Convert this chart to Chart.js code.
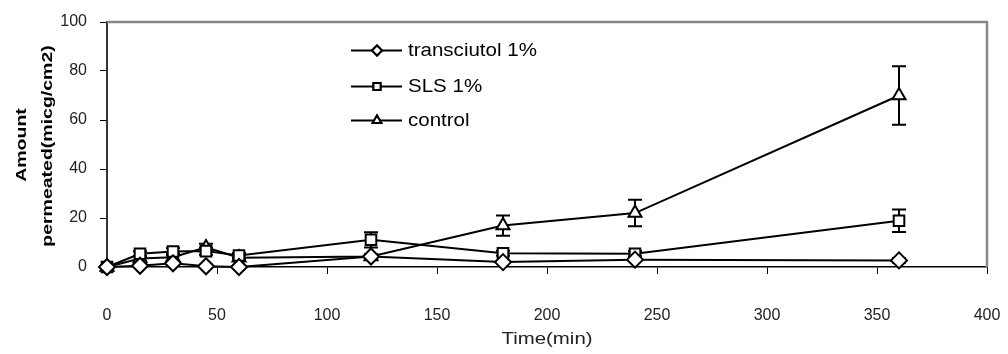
<!DOCTYPE html>
<html>
<head>
<meta charset="utf-8">
<script src="https://cdn.jsdelivr.net/npm/chart.js@4/dist/chart.umd.min.js"></script>
<style>
  html, body { margin: 0; padding: 0; background: #fff; }
  #wrap { width: 1008px; height: 354px; position: relative; }
</style>
</head>
<body>
<div id="wrap"><canvas id="chart"></canvas></div>
<script>
// data
const timeMin = [0, 15, 30, 45, 60, 120, 180, 240, 360];
const transciutol = [0, 0.5, 1.5, 0.3, 0, 4.3, 2, 3, 2.7];
const transciutolErr = [0, 0.5, 0.8, 0.5, 0.5, 0.5, 0.5, 0.5, 1];
const sls = [0, 5.4, 6.3, 6.5, 4.7, 11.1, 5.6, 5.4, 18.9];
const slsErr = [0, 1, 1.5, 1.5, 1, 3.1, 1, 1, 4.6];
const control = [0, 3.5, 4, 8, 3.8, 4.3, 16.9, 22, 70];
const controlErr = [0, 1, 1.5, 1.5, 1, 1, 4.1, 5.4, 11.9];

const seriesNames = ["transciutol 1%", "SLS 1%", "control"];
const yTicks = [0, 20, 40, 60, 80, 100];
const xTicks = [0, 50, 100, 150, 200, 250, 300, 350, 400];

const FONT = "'Liberation Sans', Arial, sans-serif";
const toPoints = (vals) => timeMin.map((t, i) => ({ x: t, y: vals[i] }));

function makeSet(label, vals, errs, style, radius) {
  return {
    label,
    data: toPoints(vals),
    errors: errs,
    clip: false,
    borderColor: "#000",
    borderWidth: 2,
    backgroundColor: "#fff",
    pointStyle: style,
    pointRadius: radius,
    pointHoverRadius: radius,
    pointBorderWidth: 2,
    pointBackgroundColor: "#fff",
    pointBorderColor: "#000",
    tension: 0,
    fill: false,
  };
}

// error bars, drawn under the markers
const errorBars = {
  id: "errorBars",
  beforeDatasetsDraw(chart) {
    const { ctx, scales } = chart;
    ctx.save();
    ctx.strokeStyle = "#000";
    ctx.lineWidth = 2;
    chart.data.datasets.forEach((ds) => {
      ds.data.forEach((p, i) => {
        const e = ds.errors[i];
        if (!e) return;
        const x = scales.x.getPixelForValue(p.x);
        const yTop = scales.y.getPixelForValue(p.y + e);
        const yBot = scales.y.getPixelForValue(p.y - e);
        ctx.beginPath();
        ctx.moveTo(x, yTop); ctx.lineTo(x, yBot);
        ctx.moveTo(x - 7, yTop); ctx.lineTo(x + 7, yTop);
        ctx.moveTo(x - 7, yBot); ctx.lineTo(x + 7, yBot);
        ctx.stroke();
      });
    });
    ctx.restore();
  },
};

// text drawn a little wider than the font, like the original
function wideText(ctx, txt, x, y, sx, angle) {
  ctx.save();
  ctx.translate(x, y);
  if (angle) ctx.rotate(angle);
  ctx.scale(sx, 1);
  ctx.fillText(txt, 0, 0);
  ctx.restore();
}

// gray top/right frame, axis titles and the line+marker legend
const decorations = {
  id: "decorations",
  afterDraw(chart) {
    const { ctx, chartArea: a } = chart;
    ctx.save();
    ctx.strokeStyle = "#888";
    ctx.lineWidth = 2.5;
    ctx.beginPath();
    ctx.moveTo(a.left, a.top);
    ctx.lineTo(a.right, a.top);
    ctx.lineTo(a.right, a.bottom);
    ctx.stroke();

    // y axis title, two bold lines
    ctx.fillStyle = "#000";
    ctx.font = "bold 15px " + FONT;
    ctx.textAlign = "center";
    ctx.textBaseline = "middle";
    wideText(ctx, "Amount", 22, 145, 1.3, -Math.PI / 2);
    wideText(ctx, "permeated(micg/cm2)", 48, 146, 1.3, -Math.PI / 2);

    // x axis title
    ctx.fillStyle = "#222";
    ctx.font = "17px " + FONT;
    wideText(ctx, "Time(min)", (a.left + a.right) / 2, 339, 1.2);

    // legend
    const rows = [50.5, 86.5, 120.5];
    ctx.font = "18px " + FONT;
    ctx.textAlign = "left";
    chart.data.datasets.forEach((ds, i) => {
      const y = rows[i];
      ctx.strokeStyle = "#000";
      ctx.lineWidth = 2;
      ctx.beginPath();
      ctx.moveTo(351, y); ctx.lineTo(402, y);
      ctx.stroke();
      Chart.helpers.drawPoint(ctx, {
        pointStyle: ds.pointStyle, radius: 5, borderWidth: 2,
      }, 377, y);
      ctx.fillStyle = "#fff";
      ctx.fill();
      ctx.stroke();
      ctx.fillStyle = "#000";
      wideText(ctx, seriesNames[i], 408, y + 1, 1.14);
    });
    ctx.restore();
  },
};

new Chart(document.getElementById("chart"), {
  type: "line",
  data: {
    datasets: [
      makeSet(seriesNames[0], transciutol, transciutolErr, "rectRot", 8),
      makeSet(seriesNames[1], sls, slsErr, "rect", 7.5),
      makeSet(seriesNames[2], control, controlErr, "triangle", 7.5),
    ],
  },
  options: {
    responsive: true,
    maintainAspectRatio: false,
    animation: false,
    layout: { padding: { top: 22, right: 21, left: 0, bottom: 0 } },
    plugins: {
      legend: { display: false },
      tooltip: { enabled: false },
    },
    scales: {
      x: {
        type: "linear",
        min: 0,
        max: 400,
        afterBuildTicks: (s) => { s.ticks = xTicks.map((v) => ({ value: v })); },
        afterFit: (s) => { s.height = 87; s.paddingLeft = 0; s.paddingRight = 0; },
        grid: { display: true, drawOnChartArea: false, drawTicks: true, tickLength: 7, color: "#000", lineWidth: 1 },
        border: { display: true, color: "#000", width: 1.5 },
        ticks: { color: "#222", padding: 32, maxRotation: 0, font: { family: FONT, size: 16 } },
      },
      y: {
        min: 0,
        max: 100,
        afterBuildTicks: (s) => { s.ticks = yTicks.map((v) => ({ value: v })); },
        afterFit: (s) => { s.width = 107; s.paddingTop = 0; s.paddingBottom = 0; },
        grid: { display: true, drawOnChartArea: false, drawTicks: true, tickLength: 7, color: "#000", lineWidth: 1 },
        border: { display: true, color: "#333", width: 2 },
        ticks: { color: "#222", padding: 13, font: { family: FONT, size: 16 } },
      },
    },
  },
  plugins: [errorBars, decorations],
});
</script>
</body>
</html>
